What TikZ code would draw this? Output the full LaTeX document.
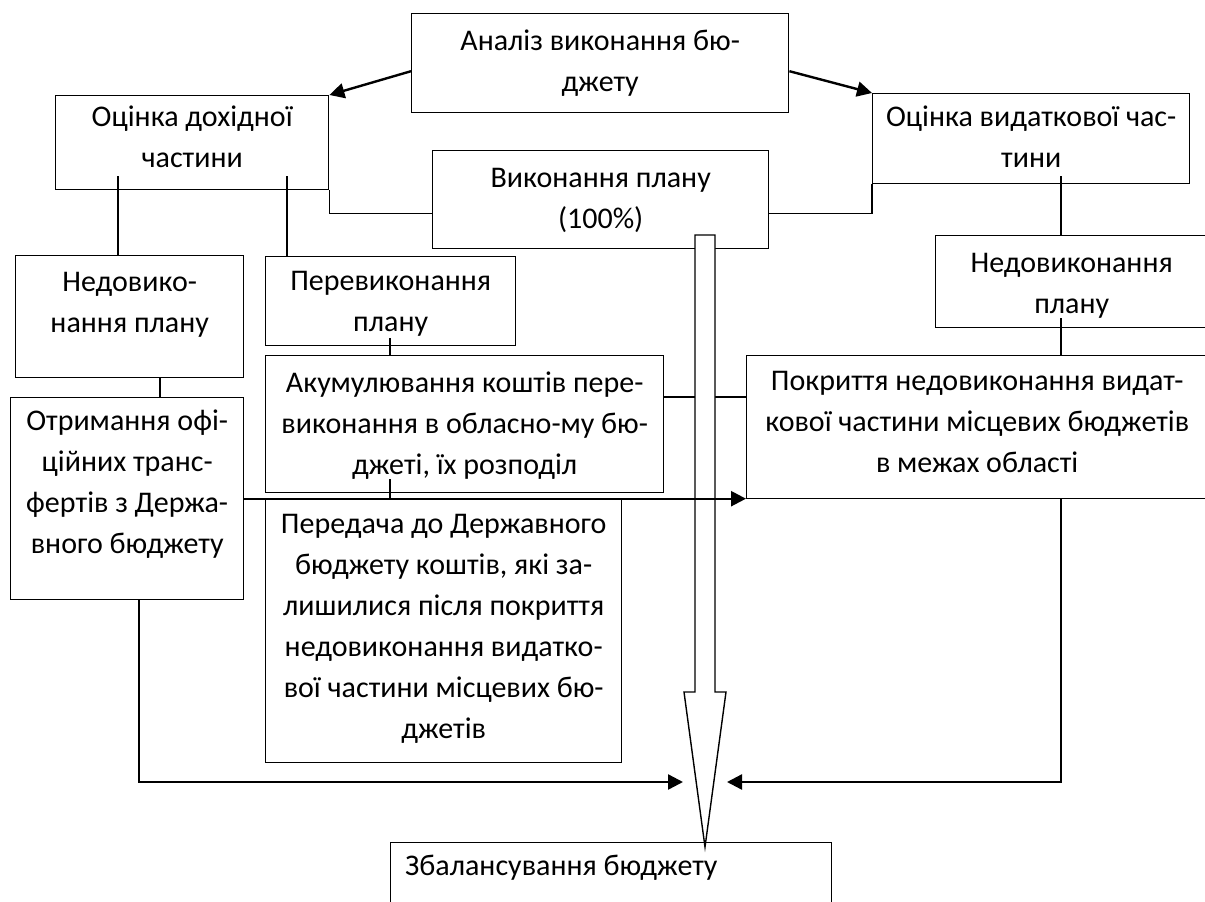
\documentclass[tikz,border=0pt]{standalone}
\usepackage{fontspec}
\setmainfont{Carlito}
\usetikzlibrary{arrows.meta,calc}
\tikzset{
  box/.style={draw, line width=1.4pt, inner sep=0pt, fill=white},
  txt/.style={inner sep=0pt, align=center, anchor=north, execute at begin node=\strut},
  conn/.style={line width=1.4pt},
  arr/.style={line width=2.4pt, -{Triangle[length=15pt,width=15pt]}},
  bigarrow/.style={line width=1.4pt, fill=white},
}
\begin{document}
\begin{tikzpicture}[x=1pt, y=-1pt, font=\fontsize{30}{41}\selectfont]
\useasboundingbox (0,0) rectangle (1205,902);

% boxes
\node[box, minimum width=377pt, minimum height=99pt, anchor=north west] (an) at (411,13) {};
\node[box, minimum width=273pt, minimum height=94pt, anchor=north west] (od) at (55,95) {};
\node[box, minimum width=317pt, minimum height=90pt, anchor=north west] (ov) at (872,93) {};
\node[box, minimum width=336pt, minimum height=98pt, anchor=north west] (vyk) at (432,150) {};
\node[box, minimum width=228pt, minimum height=122pt, anchor=north west] (nedl) at (15,255) {};
\node[box, minimum width=250pt, minimum height=89pt, anchor=north west] (perev) at (265,256) {};
\node[box, minimum width=272pt, minimum height=92pt, anchor=north west] (nedr) at (935,235) {};
\node[box, minimum width=398pt, minimum height=137pt, anchor=north west] (akum) at (265,355) {};
\node[box, minimum width=461pt, minimum height=143pt, anchor=north west] (pokr) at (746,355) {};
\node[box, minimum width=233pt, minimum height=202pt, anchor=north west] (otr) at (10,397) {};
\node[box, minimum width=356pt, minimum height=264pt, anchor=north west] (per) at (265,498) {};
\node[box, minimum width=441pt, minimum height=90pt, anchor=north west] (zb) at (390,842) {};

% texts
\node[txt] (t-an) at ($(an.north)+(0,16.3)$) {Аналіз виконання бю-\\джету};
\node[txt] (t-od) at ($(od.north)+(0,10.3)$) {Оцінка дохідної\\частини};
\node[txt] (t-ov) at ($(ov.north)+(0,12.3)$) {Оцінка видаткової час-\\тини};
\node[txt] (t-vyk) at ($(vyk.north)+(0,18.3)$) {Виконання плану\\(100\%)};
\node[txt] (t-nedl) at ($(nedl.north)+(0,17.3)$) {Недовико-\\нання плану};
\node[txt] (t-perev) at ($(perev.north)+(0,15.3)$) {Перевиконання\\плану};
\node[txt] (t-nedr) at ($(nedr.north)+(0,18.3)$) {Недовиконання\\плану};
\node[txt] (t-akum) at ($(akum.north)+(0,16.3)$) {Акумулювання коштів пере-\\виконання в обласно-му бю-\\джеті, їх розподіл};
\node[txt] (t-pokr) at ($(pokr.north)+(0,16.3)$) {Покриття недовиконання видат-\\кової частини місцевих бюджетів\\в межах області};
\node[txt] (t-otr) at ($(otr.north)+(0,12.3)$) {Отримання офі-\\ційних транс-\\фертів з Держа-\\вного бюджету};
\node[txt] (t-per) at ($(per.north)+(0,16.3)$) {Передача до Державного\\бюджету коштів, які за-\\лишилися після покриття\\недовиконання видатко-\\вої частини місцевих бю-\\джетів};
\node[txt, anchor=north west] (t-zb) at ($(zb.north west)+(15,4.3)$) {Збалансування бюджету};

% connectors
\draw[arr] ($(an.west)+(0,8)$) -- (od.north east);
\draw[arr] ($(an.east)+(0,8)$) -- (ov.north west);
\draw[conn] (od.south east) |- ($(vyk.west)+(0,14)$);
\draw[conn] ($(vyk.east)+(0,14)$) -| (ov.south west);

\coordinate (c1) at ($(od.south west)+(63,-14)$);
\coordinate (c2) at ($(od.south west)+(232,-14)$);
\draw[conn] (c1) -- (c1 |- nedl.north);
\draw[conn] (c2) -- (c2 |- perev.north);

\coordinate (c3) at ($(perev.south west)+(125,-8)$);
\draw[conn] (c3) -- (c3 |- akum.north);
\coordinate (c4) at ($(nedl.south west)+(145,0)$);
\draw[conn] (c4) -- (c4 |- otr.north);
\coordinate (c5) at ($(ov.south west)+(189,-8)$);
\draw[conn] (c5) -- (c5 |- nedr.north);
\coordinate (c6) at ($(nedr.south west)+(126,-10)$);
\draw[conn] (c6) -- (c6 |- pokr.north);
\coordinate (c7) at ($(akum.north east)+(0,42)$);
\draw[conn] (c7) -- (c7 -| pokr.west);
\coordinate (c8) at ($(akum.south west)+(125,-14)$);
\draw[conn] (c8) -- (c8 |- otr.east);

% big hollow arrow
\draw[bigarrow] (695,235) -- (695,692) -- (684,692) -- (705,847) -- (726,692) -- (715,692) -- (715,235) -- cycle;

% arrows over
\draw[arr] (otr.east) -- (otr.east -| pokr.west);
\coordinate (tipL) at (683,782);
\coordinate (tipR) at (727,782);
\draw[arr] ($(otr.south west)+(129,0)$) |- (tipL);
\draw[arr] ($(pokr.south west)+(315,0)$) |- (tipR);
\end{tikzpicture}
\end{document}
